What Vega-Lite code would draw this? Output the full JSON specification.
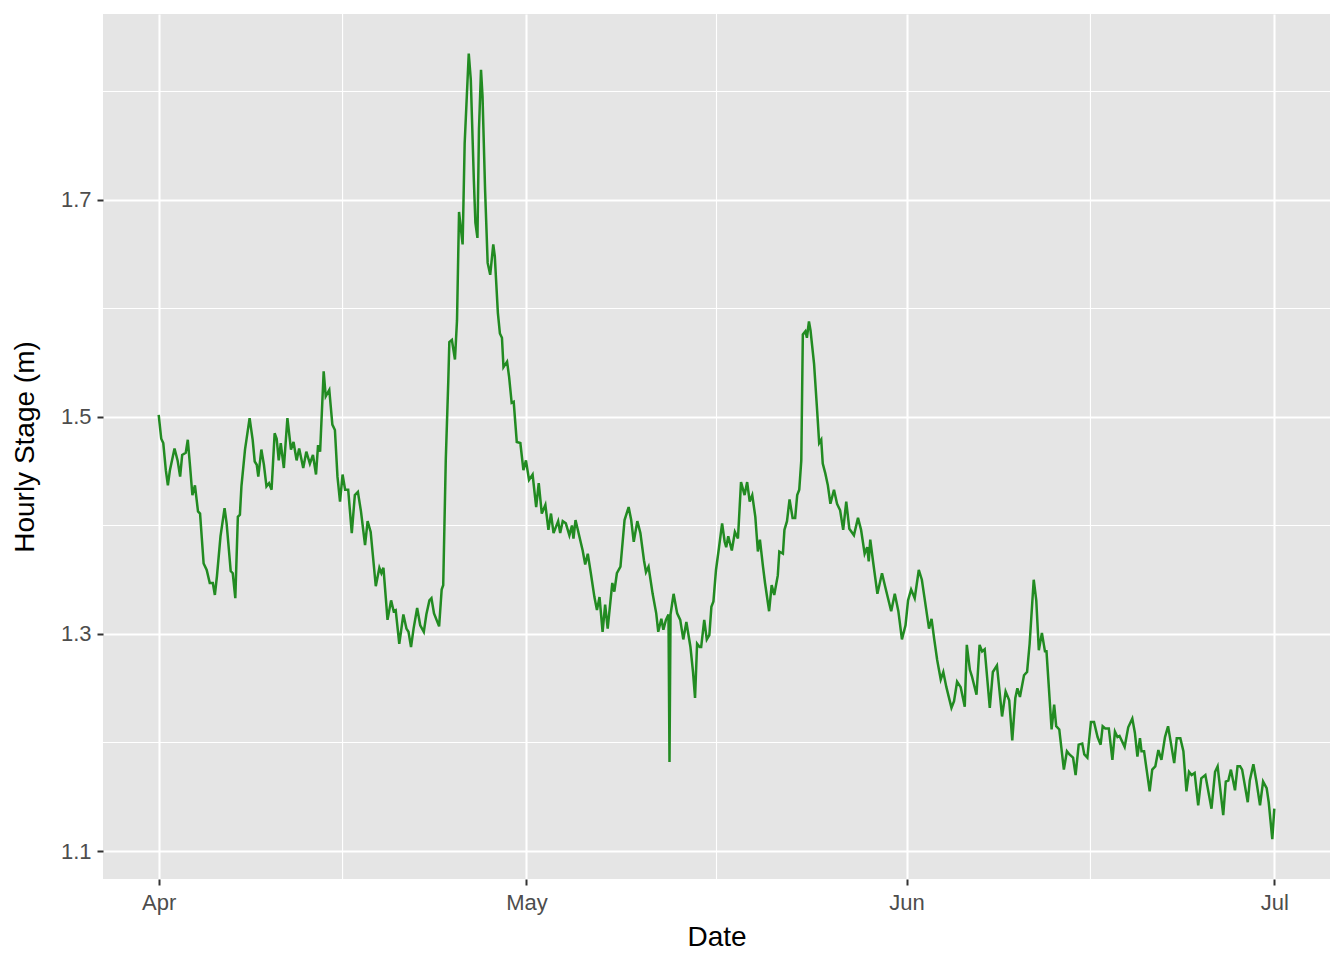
{
  "$schema": "https://vega.github.io/schema/vega-lite/v6.json",
  "width": 1227,
  "height": 865,
  "autosize": {"type": "none"},
  "padding": {"left": 103, "top": 14, "right": 14, "bottom": 81},
  "background": "white",
  "config": {
    "view": {"fill": "#E5E5E5", "stroke": null},
    "font": "Liberation Sans",
    "axis": {
      "domain": false,
      "grid": true,
      "gridColor": "white",
      "gridWidth": 2.1,
      "tickColor": "#333333",
      "tickWidth": 2,
      "tickSize": 6,
      "labelColor": "#4D4D4D",
      "labelFontSize": 22,
      "labelFont": "Liberation Sans",
      "titleFont": "Liberation Sans",
      "titleFontSize": 28,
      "titleFontWeight": "normal",
      "titleColor": "black"
    }
  },
  "datasets": {
    "vgrid": [{"t": "2019-04-16T00:00"}, {"t": "2019-05-16T12:00"}, {"t": "2019-06-16T00:00"}],
    "hgrid": [{"s": 1.2}, {"s": 1.4}, {"s": 1.6}, {"s": 1.8}],
    "stage": [
      {"t": "2019-04-01T00:00", "s": 1.502},
      {"t": "2019-04-01T05:00", "s": 1.480},
      {"t": "2019-04-01T09:00", "s": 1.476},
      {"t": "2019-04-01T14:00", "s": 1.451},
      {"t": "2019-04-01T18:00", "s": 1.437},
      {"t": "2019-04-01T22:00", "s": 1.451},
      {"t": "2019-04-02T07:00", "s": 1.471},
      {"t": "2019-04-02T13:00", "s": 1.460},
      {"t": "2019-04-02T18:00", "s": 1.445},
      {"t": "2019-04-02T22:00", "s": 1.465},
      {"t": "2019-04-03T05:00", "s": 1.467},
      {"t": "2019-04-03T09:00", "s": 1.479},
      {"t": "2019-04-03T13:00", "s": 1.457},
      {"t": "2019-04-03T18:00", "s": 1.428},
      {"t": "2019-04-03T23:00", "s": 1.437},
      {"t": "2019-04-04T05:00", "s": 1.413},
      {"t": "2019-04-04T09:00", "s": 1.411},
      {"t": "2019-04-04T16:00", "s": 1.365},
      {"t": "2019-04-04T22:00", "s": 1.359},
      {"t": "2019-04-05T04:00", "s": 1.347},
      {"t": "2019-04-05T10:00", "s": 1.347},
      {"t": "2019-04-05T14:00", "s": 1.336},
      {"t": "2019-04-05T18:00", "s": 1.353},
      {"t": "2019-04-06T01:00", "s": 1.390},
      {"t": "2019-04-06T09:00", "s": 1.416},
      {"t": "2019-04-06T13:00", "s": 1.402},
      {"t": "2019-04-06T21:00", "s": 1.358},
      {"t": "2019-04-07T01:00", "s": 1.356},
      {"t": "2019-04-07T06:00", "s": 1.333},
      {"t": "2019-04-07T11:00", "s": 1.408},
      {"t": "2019-04-07T15:00", "s": 1.410},
      {"t": "2019-04-07T18:00", "s": 1.436},
      {"t": "2019-04-08T01:00", "s": 1.470},
      {"t": "2019-04-08T10:00", "s": 1.499},
      {"t": "2019-04-08T16:00", "s": 1.479},
      {"t": "2019-04-08T20:00", "s": 1.459},
      {"t": "2019-04-09T00:00", "s": 1.456},
      {"t": "2019-04-09T03:00", "s": 1.445},
      {"t": "2019-04-09T09:00", "s": 1.470},
      {"t": "2019-04-09T14:00", "s": 1.456},
      {"t": "2019-04-09T19:00", "s": 1.436},
      {"t": "2019-04-10T00:00", "s": 1.439},
      {"t": "2019-04-10T05:00", "s": 1.433},
      {"t": "2019-04-10T11:00", "s": 1.485},
      {"t": "2019-04-10T15:00", "s": 1.480},
      {"t": "2019-04-10T19:00", "s": 1.460},
      {"t": "2019-04-10T23:00", "s": 1.476},
      {"t": "2019-04-11T05:00", "s": 1.453},
      {"t": "2019-04-11T12:00", "s": 1.499},
      {"t": "2019-04-11T19:00", "s": 1.470},
      {"t": "2019-04-12T00:00", "s": 1.477},
      {"t": "2019-04-12T06:00", "s": 1.460},
      {"t": "2019-04-12T11:00", "s": 1.471},
      {"t": "2019-04-12T19:00", "s": 1.453},
      {"t": "2019-04-13T01:00", "s": 1.468},
      {"t": "2019-04-13T08:00", "s": 1.457},
      {"t": "2019-04-13T14:00", "s": 1.465},
      {"t": "2019-04-13T20:00", "s": 1.447},
      {"t": "2019-04-14T00:00", "s": 1.474},
      {"t": "2019-04-14T04:00", "s": 1.468},
      {"t": "2019-04-14T11:00", "s": 1.542},
      {"t": "2019-04-14T15:00", "s": 1.519},
      {"t": "2019-04-14T22:00", "s": 1.525},
      {"t": "2019-04-15T04:00", "s": 1.493},
      {"t": "2019-04-15T09:00", "s": 1.488},
      {"t": "2019-04-15T14:00", "s": 1.445},
      {"t": "2019-04-15T19:00", "s": 1.422},
      {"t": "2019-04-16T00:00", "s": 1.447},
      {"t": "2019-04-16T05:00", "s": 1.433},
      {"t": "2019-04-16T11:00", "s": 1.433},
      {"t": "2019-04-16T18:00", "s": 1.393},
      {"t": "2019-04-17T00:00", "s": 1.428},
      {"t": "2019-04-17T06:00", "s": 1.431},
      {"t": "2019-04-17T12:00", "s": 1.413},
      {"t": "2019-04-17T20:00", "s": 1.382},
      {"t": "2019-04-18T01:00", "s": 1.404},
      {"t": "2019-04-18T07:00", "s": 1.394},
      {"t": "2019-04-18T17:00", "s": 1.344},
      {"t": "2019-04-19T00:00", "s": 1.361},
      {"t": "2019-04-19T04:00", "s": 1.356},
      {"t": "2019-04-19T08:00", "s": 1.361},
      {"t": "2019-04-19T16:00", "s": 1.313},
      {"t": "2019-04-19T23:00", "s": 1.331},
      {"t": "2019-04-20T04:00", "s": 1.321},
      {"t": "2019-04-20T08:00", "s": 1.322},
      {"t": "2019-04-20T15:00", "s": 1.291},
      {"t": "2019-04-20T23:00", "s": 1.318},
      {"t": "2019-04-21T05:00", "s": 1.305},
      {"t": "2019-04-21T09:00", "s": 1.302},
      {"t": "2019-04-21T14:00", "s": 1.288},
      {"t": "2019-04-21T19:00", "s": 1.305},
      {"t": "2019-04-22T02:00", "s": 1.324},
      {"t": "2019-04-22T08:00", "s": 1.308},
      {"t": "2019-04-22T15:00", "s": 1.302},
      {"t": "2019-04-22T20:00", "s": 1.318},
      {"t": "2019-04-23T02:00", "s": 1.331},
      {"t": "2019-04-23T06:00", "s": 1.333},
      {"t": "2019-04-23T11:00", "s": 1.319},
      {"t": "2019-04-23T21:00", "s": 1.307},
      {"t": "2019-04-24T02:00", "s": 1.341},
      {"t": "2019-04-24T05:00", "s": 1.345},
      {"t": "2019-04-24T10:00", "s": 1.460},
      {"t": "2019-04-24T15:00", "s": 1.534},
      {"t": "2019-04-24T17:00", "s": 1.569},
      {"t": "2019-04-24T22:00", "s": 1.571},
      {"t": "2019-04-25T04:00", "s": 1.553},
      {"t": "2019-04-25T08:00", "s": 1.589},
      {"t": "2019-04-25T12:00", "s": 1.689},
      {"t": "2019-04-25T19:00", "s": 1.659},
      {"t": "2019-04-25T23:00", "s": 1.752},
      {"t": "2019-04-26T07:00", "s": 1.835},
      {"t": "2019-04-26T11:00", "s": 1.811},
      {"t": "2019-04-26T17:00", "s": 1.718},
      {"t": "2019-04-26T20:00", "s": 1.679},
      {"t": "2019-04-27T00:00", "s": 1.665},
      {"t": "2019-04-27T03:00", "s": 1.765},
      {"t": "2019-04-27T07:00", "s": 1.820},
      {"t": "2019-04-27T10:00", "s": 1.795},
      {"t": "2019-04-27T15:00", "s": 1.709},
      {"t": "2019-04-27T20:00", "s": 1.642},
      {"t": "2019-04-28T01:00", "s": 1.631},
      {"t": "2019-04-28T07:00", "s": 1.659},
      {"t": "2019-04-28T10:00", "s": 1.648},
      {"t": "2019-04-28T16:00", "s": 1.596},
      {"t": "2019-04-28T20:00", "s": 1.577},
      {"t": "2019-04-29T00:00", "s": 1.573},
      {"t": "2019-04-29T03:00", "s": 1.546},
      {"t": "2019-04-29T10:00", "s": 1.551},
      {"t": "2019-04-29T14:00", "s": 1.537},
      {"t": "2019-04-29T19:00", "s": 1.513},
      {"t": "2019-04-29T23:00", "s": 1.514},
      {"t": "2019-04-30T05:00", "s": 1.477},
      {"t": "2019-04-30T12:00", "s": 1.476},
      {"t": "2019-04-30T18:00", "s": 1.451},
      {"t": "2019-04-30T23:00", "s": 1.460},
      {"t": "2019-05-01T05:00", "s": 1.442},
      {"t": "2019-05-01T12:00", "s": 1.447},
      {"t": "2019-05-01T19:00", "s": 1.417},
      {"t": "2019-05-02T00:00", "s": 1.439},
      {"t": "2019-05-02T06:00", "s": 1.411},
      {"t": "2019-05-02T13:00", "s": 1.419},
      {"t": "2019-05-02T19:00", "s": 1.396},
      {"t": "2019-05-03T00:00", "s": 1.411},
      {"t": "2019-05-03T05:00", "s": 1.393},
      {"t": "2019-05-03T14:00", "s": 1.404},
      {"t": "2019-05-03T18:00", "s": 1.393},
      {"t": "2019-05-03T23:00", "s": 1.404},
      {"t": "2019-05-04T05:00", "s": 1.402},
      {"t": "2019-05-04T12:00", "s": 1.391},
      {"t": "2019-05-04T17:00", "s": 1.400},
      {"t": "2019-05-04T20:00", "s": 1.388},
      {"t": "2019-05-05T00:00", "s": 1.405},
      {"t": "2019-05-05T07:00", "s": 1.391},
      {"t": "2019-05-05T14:00", "s": 1.377},
      {"t": "2019-05-05T19:00", "s": 1.364},
      {"t": "2019-05-06T00:00", "s": 1.374},
      {"t": "2019-05-06T06:00", "s": 1.356},
      {"t": "2019-05-06T13:00", "s": 1.334},
      {"t": "2019-05-06T18:00", "s": 1.322},
      {"t": "2019-05-06T23:00", "s": 1.334},
      {"t": "2019-05-07T05:00", "s": 1.302},
      {"t": "2019-05-07T10:00", "s": 1.327},
      {"t": "2019-05-07T15:00", "s": 1.305},
      {"t": "2019-05-08T00:00", "s": 1.347},
      {"t": "2019-05-08T04:00", "s": 1.339},
      {"t": "2019-05-08T09:00", "s": 1.356},
      {"t": "2019-05-08T16:00", "s": 1.362},
      {"t": "2019-05-09T00:00", "s": 1.405},
      {"t": "2019-05-09T08:00", "s": 1.417},
      {"t": "2019-05-09T13:00", "s": 1.405},
      {"t": "2019-05-09T18:00", "s": 1.385},
      {"t": "2019-05-10T01:00", "s": 1.404},
      {"t": "2019-05-10T07:00", "s": 1.393},
      {"t": "2019-05-10T14:00", "s": 1.368},
      {"t": "2019-05-10T18:00", "s": 1.357},
      {"t": "2019-05-10T23:00", "s": 1.362},
      {"t": "2019-05-11T07:00", "s": 1.337},
      {"t": "2019-05-11T14:00", "s": 1.319},
      {"t": "2019-05-11T18:00", "s": 1.302},
      {"t": "2019-05-12T00:00", "s": 1.314},
      {"t": "2019-05-12T04:00", "s": 1.304},
      {"t": "2019-05-12T09:00", "s": 1.313},
      {"t": "2019-05-12T14:00", "s": 1.318},
      {"t": "2019-05-12T16:00", "s": 1.182},
      {"t": "2019-05-12T18:00", "s": 1.318},
      {"t": "2019-05-13T00:00", "s": 1.337},
      {"t": "2019-05-13T07:00", "s": 1.319},
      {"t": "2019-05-13T13:00", "s": 1.313},
      {"t": "2019-05-13T19:00", "s": 1.295},
      {"t": "2019-05-14T01:00", "s": 1.311},
      {"t": "2019-05-14T09:00", "s": 1.288},
      {"t": "2019-05-14T14:00", "s": 1.265},
      {"t": "2019-05-14T18:00", "s": 1.241},
      {"t": "2019-05-14T22:00", "s": 1.291},
      {"t": "2019-05-15T03:00", "s": 1.288},
      {"t": "2019-05-15T06:00", "s": 1.288},
      {"t": "2019-05-15T12:00", "s": 1.313},
      {"t": "2019-05-15T17:00", "s": 1.295},
      {"t": "2019-05-15T22:00", "s": 1.299},
      {"t": "2019-05-16T02:00", "s": 1.325},
      {"t": "2019-05-16T06:00", "s": 1.330},
      {"t": "2019-05-16T11:00", "s": 1.359},
      {"t": "2019-05-16T17:00", "s": 1.380},
      {"t": "2019-05-16T23:00", "s": 1.402},
      {"t": "2019-05-17T04:00", "s": 1.385},
      {"t": "2019-05-17T07:00", "s": 1.380},
      {"t": "2019-05-17T11:00", "s": 1.390},
      {"t": "2019-05-17T18:00", "s": 1.377},
      {"t": "2019-05-18T00:00", "s": 1.394},
      {"t": "2019-05-18T06:00", "s": 1.388},
      {"t": "2019-05-18T12:00", "s": 1.440},
      {"t": "2019-05-18T19:00", "s": 1.428},
      {"t": "2019-05-19T00:00", "s": 1.440},
      {"t": "2019-05-19T05:00", "s": 1.422},
      {"t": "2019-05-19T10:00", "s": 1.428},
      {"t": "2019-05-19T16:00", "s": 1.408},
      {"t": "2019-05-19T21:00", "s": 1.376},
      {"t": "2019-05-20T01:00", "s": 1.387},
      {"t": "2019-05-20T07:00", "s": 1.362},
      {"t": "2019-05-20T11:00", "s": 1.347},
      {"t": "2019-05-20T19:00", "s": 1.321},
      {"t": "2019-05-21T00:00", "s": 1.345},
      {"t": "2019-05-21T05:00", "s": 1.336},
      {"t": "2019-05-21T12:00", "s": 1.354},
      {"t": "2019-05-21T15:00", "s": 1.376},
      {"t": "2019-05-21T22:00", "s": 1.374},
      {"t": "2019-05-22T01:00", "s": 1.396},
      {"t": "2019-05-22T06:00", "s": 1.404},
      {"t": "2019-05-22T11:00", "s": 1.424},
      {"t": "2019-05-22T17:00", "s": 1.407},
      {"t": "2019-05-22T22:00", "s": 1.407},
      {"t": "2019-05-23T02:00", "s": 1.428},
      {"t": "2019-05-23T06:00", "s": 1.433},
      {"t": "2019-05-23T10:00", "s": 1.460},
      {"t": "2019-05-23T13:00", "s": 1.576},
      {"t": "2019-05-23T18:00", "s": 1.579},
      {"t": "2019-05-23T21:00", "s": 1.573},
      {"t": "2019-05-24T01:00", "s": 1.588},
      {"t": "2019-05-24T04:00", "s": 1.580},
      {"t": "2019-05-24T11:00", "s": 1.549},
      {"t": "2019-05-24T17:00", "s": 1.506},
      {"t": "2019-05-24T21:00", "s": 1.476},
      {"t": "2019-05-25T01:00", "s": 1.479},
      {"t": "2019-05-25T04:00", "s": 1.457},
      {"t": "2019-05-25T09:00", "s": 1.448},
      {"t": "2019-05-25T14:00", "s": 1.437},
      {"t": "2019-05-25T19:00", "s": 1.420},
      {"t": "2019-05-26T02:00", "s": 1.433},
      {"t": "2019-05-26T08:00", "s": 1.420},
      {"t": "2019-05-26T14:00", "s": 1.414},
      {"t": "2019-05-26T20:00", "s": 1.396},
      {"t": "2019-05-27T02:00", "s": 1.422},
      {"t": "2019-05-27T08:00", "s": 1.397},
      {"t": "2019-05-27T17:00", "s": 1.391},
      {"t": "2019-05-28T01:00", "s": 1.407},
      {"t": "2019-05-28T07:00", "s": 1.396},
      {"t": "2019-05-28T14:00", "s": 1.374},
      {"t": "2019-05-28T19:00", "s": 1.380},
      {"t": "2019-05-28T22:00", "s": 1.367},
      {"t": "2019-05-29T01:00", "s": 1.387},
      {"t": "2019-05-29T07:00", "s": 1.365},
      {"t": "2019-05-29T15:00", "s": 1.337},
      {"t": "2019-05-30T00:00", "s": 1.356},
      {"t": "2019-05-30T06:00", "s": 1.344},
      {"t": "2019-05-30T18:00", "s": 1.321},
      {"t": "2019-05-31T01:00", "s": 1.337},
      {"t": "2019-05-31T08:00", "s": 1.321},
      {"t": "2019-05-31T15:00", "s": 1.295},
      {"t": "2019-05-31T22:00", "s": 1.308},
      {"t": "2019-06-01T03:00", "s": 1.331},
      {"t": "2019-06-01T09:00", "s": 1.341},
      {"t": "2019-06-01T16:00", "s": 1.333},
      {"t": "2019-06-02T00:00", "s": 1.359},
      {"t": "2019-06-02T06:00", "s": 1.350},
      {"t": "2019-06-02T11:00", "s": 1.334},
      {"t": "2019-06-02T20:00", "s": 1.305},
      {"t": "2019-06-03T01:00", "s": 1.314},
      {"t": "2019-06-03T06:00", "s": 1.296},
      {"t": "2019-06-03T12:00", "s": 1.276},
      {"t": "2019-06-03T19:00", "s": 1.258},
      {"t": "2019-06-04T00:00", "s": 1.265},
      {"t": "2019-06-04T06:00", "s": 1.251},
      {"t": "2019-06-04T16:00", "s": 1.232},
      {"t": "2019-06-04T21:00", "s": 1.238},
      {"t": "2019-06-05T03:00", "s": 1.256},
      {"t": "2019-06-05T10:00", "s": 1.251},
      {"t": "2019-06-05T18:00", "s": 1.233},
      {"t": "2019-06-05T22:00", "s": 1.290},
      {"t": "2019-06-06T04:00", "s": 1.267},
      {"t": "2019-06-06T08:00", "s": 1.261},
      {"t": "2019-06-06T17:00", "s": 1.244},
      {"t": "2019-06-06T23:00", "s": 1.290},
      {"t": "2019-06-07T04:00", "s": 1.284},
      {"t": "2019-06-07T09:00", "s": 1.286},
      {"t": "2019-06-07T19:00", "s": 1.232},
      {"t": "2019-06-08T01:00", "s": 1.265},
      {"t": "2019-06-08T09:00", "s": 1.271},
      {"t": "2019-06-08T19:00", "s": 1.224},
      {"t": "2019-06-09T02:00", "s": 1.247},
      {"t": "2019-06-09T09:00", "s": 1.239},
      {"t": "2019-06-09T15:00", "s": 1.202},
      {"t": "2019-06-09T21:00", "s": 1.241},
      {"t": "2019-06-10T01:00", "s": 1.250},
      {"t": "2019-06-10T06:00", "s": 1.242},
      {"t": "2019-06-10T14:00", "s": 1.262},
      {"t": "2019-06-10T20:00", "s": 1.265},
      {"t": "2019-06-11T01:00", "s": 1.291},
      {"t": "2019-06-11T09:00", "s": 1.350},
      {"t": "2019-06-11T14:00", "s": 1.331},
      {"t": "2019-06-11T19:00", "s": 1.285},
      {"t": "2019-06-12T01:00", "s": 1.301},
      {"t": "2019-06-12T07:00", "s": 1.284},
      {"t": "2019-06-12T10:00", "s": 1.284},
      {"t": "2019-06-12T20:00", "s": 1.212},
      {"t": "2019-06-13T01:00", "s": 1.235},
      {"t": "2019-06-13T05:00", "s": 1.215},
      {"t": "2019-06-13T11:00", "s": 1.212},
      {"t": "2019-06-13T20:00", "s": 1.175},
      {"t": "2019-06-14T02:00", "s": 1.192},
      {"t": "2019-06-14T07:00", "s": 1.189},
      {"t": "2019-06-14T14:00", "s": 1.186},
      {"t": "2019-06-14T19:00", "s": 1.170},
      {"t": "2019-06-15T01:00", "s": 1.198},
      {"t": "2019-06-15T08:00", "s": 1.199},
      {"t": "2019-06-15T12:00", "s": 1.189},
      {"t": "2019-06-15T18:00", "s": 1.186},
      {"t": "2019-06-16T01:00", "s": 1.219},
      {"t": "2019-06-16T07:00", "s": 1.219},
      {"t": "2019-06-16T14:00", "s": 1.205},
      {"t": "2019-06-16T20:00", "s": 1.198},
      {"t": "2019-06-17T00:00", "s": 1.215},
      {"t": "2019-06-17T05:00", "s": 1.213},
      {"t": "2019-06-17T12:00", "s": 1.213},
      {"t": "2019-06-17T19:00", "s": 1.184},
      {"t": "2019-06-18T00:00", "s": 1.210},
      {"t": "2019-06-18T05:00", "s": 1.205},
      {"t": "2019-06-18T09:00", "s": 1.206},
      {"t": "2019-06-18T19:00", "s": 1.196},
      {"t": "2019-06-19T02:00", "s": 1.214},
      {"t": "2019-06-19T10:00", "s": 1.222},
      {"t": "2019-06-19T15:00", "s": 1.209},
      {"t": "2019-06-19T20:00", "s": 1.187},
      {"t": "2019-06-20T01:00", "s": 1.204},
      {"t": "2019-06-20T04:00", "s": 1.192},
      {"t": "2019-06-20T09:00", "s": 1.192},
      {"t": "2019-06-20T14:00", "s": 1.175},
      {"t": "2019-06-20T20:00", "s": 1.155},
      {"t": "2019-06-21T01:00", "s": 1.175},
      {"t": "2019-06-21T07:00", "s": 1.178},
      {"t": "2019-06-21T13:00", "s": 1.193},
      {"t": "2019-06-21T19:00", "s": 1.184},
      {"t": "2019-06-22T02:00", "s": 1.205},
      {"t": "2019-06-22T08:00", "s": 1.215},
      {"t": "2019-06-22T13:00", "s": 1.201},
      {"t": "2019-06-22T20:00", "s": 1.181},
      {"t": "2019-06-23T01:00", "s": 1.204},
      {"t": "2019-06-23T08:00", "s": 1.204},
      {"t": "2019-06-23T14:00", "s": 1.192},
      {"t": "2019-06-23T20:00", "s": 1.155},
      {"t": "2019-06-24T01:00", "s": 1.173},
      {"t": "2019-06-24T06:00", "s": 1.170},
      {"t": "2019-06-24T12:00", "s": 1.172},
      {"t": "2019-06-24T19:00", "s": 1.142},
      {"t": "2019-06-25T01:00", "s": 1.167},
      {"t": "2019-06-25T09:00", "s": 1.170},
      {"t": "2019-06-25T21:00", "s": 1.139},
      {"t": "2019-06-26T04:00", "s": 1.173},
      {"t": "2019-06-26T09:00", "s": 1.178},
      {"t": "2019-06-26T20:00", "s": 1.133},
      {"t": "2019-06-27T01:00", "s": 1.164},
      {"t": "2019-06-27T06:00", "s": 1.165},
      {"t": "2019-06-27T11:00", "s": 1.175},
      {"t": "2019-06-27T19:00", "s": 1.156},
      {"t": "2019-06-28T00:00", "s": 1.178},
      {"t": "2019-06-28T05:00", "s": 1.178},
      {"t": "2019-06-28T09:00", "s": 1.175},
      {"t": "2019-06-28T20:00", "s": 1.145},
      {"t": "2019-06-29T00:00", "s": 1.165},
      {"t": "2019-06-29T07:00", "s": 1.180},
      {"t": "2019-06-29T13:00", "s": 1.164},
      {"t": "2019-06-29T20:00", "s": 1.142},
      {"t": "2019-06-30T02:00", "s": 1.164},
      {"t": "2019-06-30T09:00", "s": 1.158},
      {"t": "2019-06-30T13:00", "s": 1.145},
      {"t": "2019-06-30T20:00", "s": 1.111},
      {"t": "2019-07-01T00:00", "s": 1.139}
    ]
  },
  "layer": [
    {
      "data": {"name": "vgrid"},
      "mark": {"type": "rule", "color": "white", "strokeWidth": 1.1},
      "encoding": {
        "x": {
          "field": "t", "type": "temporal", "title": "Date",
          "scale": {"domain": [{"year": 2019, "month": 3, "date": 27, "hours": 11}, {"year": 2019, "month": 7, "date": 5, "hours": 13}]},
          "axis": {"values": [{"year": 2019, "month": 4, "date": 1}, {"year": 2019, "month": 5, "date": 1}, {"year": 2019, "month": 6, "date": 1}, {"year": 2019, "month": 7, "date": 1}], "format": "%b", "labelPadding": 7, "titlePadding": 10, "labelFlush": false}
        }
      }
    },
    {
      "data": {"name": "hgrid"},
      "mark": {"type": "rule", "color": "white", "strokeWidth": 1.1},
      "encoding": {
        "y": {
          "field": "s", "type": "quantitative", "title": "Hourly Stage (m)",
          "scale": {"domain": [1.0742, 1.8714], "nice": false, "zero": false},
          "axis": {"values": [1.1, 1.3, 1.5, 1.7], "format": ".1f", "labelPadding": 6, "titlePadding": 21}
        }
      }
    },
    {
      "data": {"name": "stage"},
      "mark": {"type": "line", "color": "#228B22", "strokeWidth": 2.5, "interpolate": "linear"},
      "encoding": {
        "x": {
          "field": "t", "type": "temporal", "title": "Date",
          "scale": {"domain": [{"year": 2019, "month": 3, "date": 27, "hours": 11}, {"year": 2019, "month": 7, "date": 5, "hours": 13}]},
          "axis": {"values": [{"year": 2019, "month": 4, "date": 1}, {"year": 2019, "month": 5, "date": 1}, {"year": 2019, "month": 6, "date": 1}, {"year": 2019, "month": 7, "date": 1}], "format": "%b", "labelPadding": 7, "titlePadding": 10, "labelFlush": false}
        },
        "y": {
          "field": "s", "type": "quantitative", "title": "Hourly Stage (m)",
          "scale": {"domain": [1.0742, 1.8714], "nice": false, "zero": false},
          "axis": {"values": [1.1, 1.3, 1.5, 1.7], "format": ".1f", "labelPadding": 6, "titlePadding": 21}
        }
      }
    }
  ]
}
